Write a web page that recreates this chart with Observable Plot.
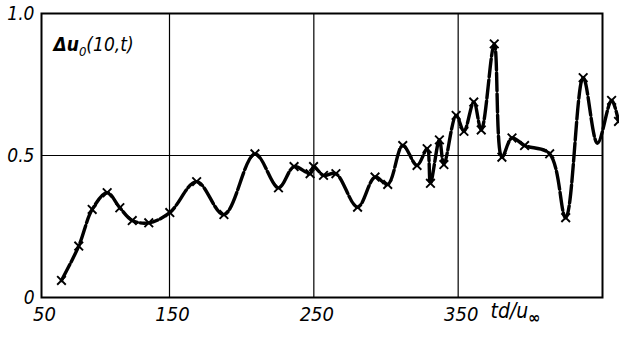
<!DOCTYPE html>
<html>
<head>
<meta charset="utf-8">
<script src="https://cdn.jsdelivr.net/npm/d3@7"></script>
<script src="https://cdn.jsdelivr.net/npm/@observablehq/plot@0.6"></script>
<style>
  html, body { margin: 0; padding: 0; background: #fff; }
  #chart { width: 619px; height: 338px; }
</style>
</head>
<body>
<div id="chart"></div>
<script>
// Marked data points (td/u∞ , Δu0(10,t))
const tValues = [65.6, 79.1, 89.6, 101.3, 111.2, 120.9, 133.8, 150.2, 168.8, 187.7,
  209.2, 225.5, 236.3, 247.4, 249.8, 256.7, 265.3, 280.3, 292.4, 301.2,
  311.6, 321.5, 328.5, 330.8, 337.0, 340.1, 348.6, 354.0, 360.8, 366.0,
  375.0, 380.3, 387.3, 396.0, 413.4, 424.5, 436.6, 456.3, 461.1];
const duValues = [0.060, 0.181, 0.310, 0.369, 0.316, 0.271, 0.263, 0.299, 0.408, 0.292,
  0.506, 0.386, 0.461, 0.436, 0.461, 0.430, 0.436, 0.318, 0.424, 0.398,
  0.535, 0.465, 0.524, 0.402, 0.555, 0.468, 0.641, 0.585, 0.688, 0.590,
  0.893, 0.494, 0.562, 0.535, 0.506, 0.281, 0.774, 0.694, 0.620];
// Unmarked turning points of the drawn curve
const tCurveExtra = [446.5];
const duCurveExtra = [0.543];
// Axis ticks
const xTicks = [50, 150, 250, 350];
const yTicks = [0, 0.5, 1.0];
const xGrid = [150, 250, 350];
const yGrid = [0.5];

const points = tValues.map((t, i) => ({t, du: duValues[i]}));
const curve = points.concat(tCurveExtra.map((t, i) => ({t, du: duCurveExtra[i]})))
  .sort((a, b) => a.t - b.t);

const FONT = "'DejaVu Sans Condensed', 'DejaVu Sans', sans-serif";

const chart = Plot.plot({
  width: 619,
  height: 338,
  marginLeft: 41,
  marginRight: 17,
  marginTop: 13,
  marginBottom: 41,
  style: {fontFamily: FONT, fontSize: "20px", fontStyle: "italic", color: "black", background: "white"},
  x: {type: "linear", domain: [50, 150, 450], range: [41, 169, 602]},
  y: {domain: [0, 1], range: [297, 13]},
  marks: [
    Plot.gridX(xGrid, {stroke: "black", strokeOpacity: 1, strokeWidth: 1.2}),
    Plot.gridY(yGrid, {stroke: "black", strokeOpacity: 1, strokeWidth: 1.2}),
    Plot.frame({stroke: "black", strokeWidth: 2}),
    Plot.axisX({ticks: xTicks, tickSize: 0, tickPadding: 9, label: null, fontSize: 20, fontStyle: "italic", dx: 3, tickFormat: d => String(d)}),
    Plot.axisY({ticks: yTicks, tickSize: 0, tickPadding: 7, label: null, fontSize: 19, fontStyle: "italic", tickFormat: d => d === 0 ? "0" : d.toFixed(1)}),
    Plot.line(curve, {x: "t", y: "du", curve: "catmull-rom", stroke: "black", strokeWidth: 3.4, strokeDasharray: "18,3"}),
    Plot.dot(points, {x: "t", y: "du", symbol: "times", r: 4, stroke: "black", strokeWidth: 1.9}),
    Plot.text(["Δu0(10,t)"], {frameAnchor: "top-left", dx: 12, dy: 24, textAnchor: "start", fontSize: 19, fontStyle: "italic", fill: "black"}),
    Plot.text(["td/u∞"], {frameAnchor: "bottom-right", dx: -112, dy: 20, textAnchor: "start", fontSize: 21, fontStyle: "italic", fill: "black"})
  ]
});

const NS = "http://www.w3.org/2000/svg";
function tspan(txt, attrs) {
  const s = document.createElementNS(NS, "tspan");
  s.textContent = txt;
  for (const k in attrs) s.setAttribute(k, attrs[k]);
  return s;
}
// subscripts in the labels
chart.querySelectorAll("text").forEach(el => {
  if (el.textContent === "td/u∞") {
    el.textContent = "";
    el.appendChild(tspan("td/u", {}));
    el.appendChild(tspan("∞", {dy: "5", "font-size": "16", "font-weight": "bold"}));
  } else if (el.textContent === "Δu0(10,t)") {
    el.textContent = "";
    el.appendChild(tspan("Δu", {"font-weight": "bold"}));
    el.appendChild(tspan("0", {dy: "5", "font-size": "13"}));
    el.appendChild(tspan("(10,t)", {dy: "-5"}));
  }
});

document.getElementById("chart").appendChild(chart);
</script>
</body>
</html>
